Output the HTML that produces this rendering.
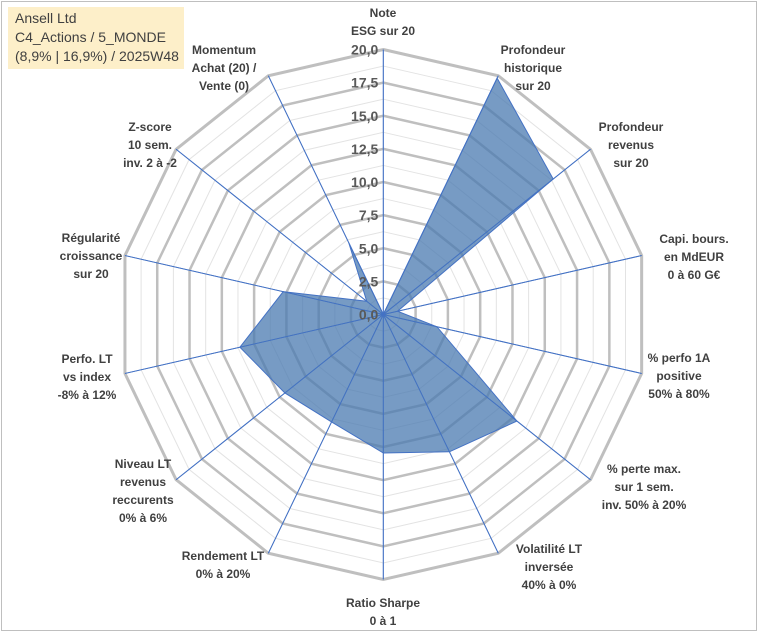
<!DOCTYPE html>
<html><head><meta charset="utf-8"><style>
body{margin:0;background:#fff}
#wrap{position:relative;width:760px;height:633px;overflow:hidden;font-family:"Liberation Sans",sans-serif}
#frame{position:absolute;left:1px;top:1px;width:756px;height:630px;border:1px solid #bfbfbf;box-sizing:border-box}
#title{position:absolute;left:8px;top:7px;width:176px;height:62px;background:#fdefc9;color:#404040;font-size:14px;line-height:19px;padding:2px 0 0 7px;box-sizing:border-box}
</style></head><body>
<div id="wrap">
<div id="frame"></div>
<svg id="chart" width="760" height="633" style="position:absolute;left:0;top:0"></svg>
<div id="title">Ansell Ltd<br>C4_Actions / 5_MONDE<br>(8,9% | 16,9%) / 2025W48</div>
</div>
<script>
const categories=[["Note","ESG sur 20"],["Profondeur","historique","sur 20"],["Profondeur","revenus","sur 20"],["Capi. bours.","en MdEUR","0 à 60 G€"],["% perfo 1A","positive","50% à 80%"],["% perte max.","sur 1 sem.","inv. 50% à 20%"],["Volatilité LT","inversée","40% à 0%"],["Ratio Sharpe","0 à 1"],["Rendement LT","0% à 20%"],["Niveau LT","revenus","reccurents","0% à 6%"],["Perfo. LT","vs index","-8% à 12%"],["Régularité","croissance","sur 20"],["Z-score","10 sem.","inv. 2 à -2"],["Momentum","Achat (20) /","Vente (0)"]];
const values=[0,19.8,16.4,1.1,4.15,12.9,11.5,10.45,9.0,9.5,11.1,7.75,1.6,6.0];
const tickLabels=["0,0","2,5","5,0","7,5","10,0","12,5","15,0","17,5","20,0"];
const maxVal=20;
const labelPos=[[383,13],[533,50],[631,127],[694,239],[679,358],[644,469],[549,549],[383,603],[223,556],[143,464],[87,359],[91,238],[150,127],[224,50]];
const cx=383.3,cy=314.5,R=265;
const N=categories.length;
const svg=document.getElementById('chart');
const NS="http://www.w3.org/2000/svg";
function ang(i){return i*2*Math.PI/N;}
function pt(i,v){const r=v/maxVal*R;return [cx+r*Math.sin(ang(i)),cy-r*Math.cos(ang(i))];}
function mk(tag,attrs){const e=document.createElementNS(NS,tag);for(const k in attrs)e.setAttribute(k,attrs[k]);svg.appendChild(e);return e;}
// minor rings
for(let k=1;k<=16;k++){
 const v=k*1.25;const pts=[];for(let i=0;i<N;i++)pts.push(pt(i,v).join(','));
 const major=k%2===0;
 const e=mk('polygon',{points:pts.join(' '),fill:'none',stroke:major?'#bfbfbf':'#e3e3e3','stroke-width':major?(k===16?3:2.5):1});
 
 
}
// spokes
for(let i=0;i<N;i++){
 const p=pt(i,maxVal);
 const e=mk('line',{x1:cx,y1:cy,x2:p[0],y2:p[1],stroke:'#4472c4','stroke-width':1});
 
 
}
// series
const sp=values.map((v,i)=>pt(i,v).join(',')).join(' ');
const area=mk('polygon',{points:sp,fill:'#4a79b0','fill-opacity':0.75,stroke:'#4472c4','stroke-width':1});


// spokes over area (visible through)
for(let i=0;i<N;i++){
 const p=pt(i,maxVal);
 const e=mk('line',{x1:cx,y1:cy,x2:p[0],y2:p[1],stroke:'#4472c4','stroke-width':0.8});
 
 
}
// tick labels
tickLabels.forEach((t,k)=>{
 const v=k*2.5;const y=cy-v/maxVal*R;
 const e=mk('text',{x:cx-5,y:y+5,'text-anchor':'end','font-size':14,'font-weight':'bold',fill:'#595959'});
 e.textContent=t;
 
 
});
// category labels
categories.forEach((lines,i)=>{
 const [x,y]=labelPos[i];
 const e=mk('text',{x:x,y:y,'text-anchor':'middle','font-size':12,'font-weight':'bold',fill:'#404040'});
 lines.forEach((l,j)=>{const ts=document.createElementNS(NS,'tspan');ts.setAttribute('x',x);ts.setAttribute('dy',j===0?4:18);ts.textContent=l;e.appendChild(ts);});
 
 
});
</script>
</body></html>
